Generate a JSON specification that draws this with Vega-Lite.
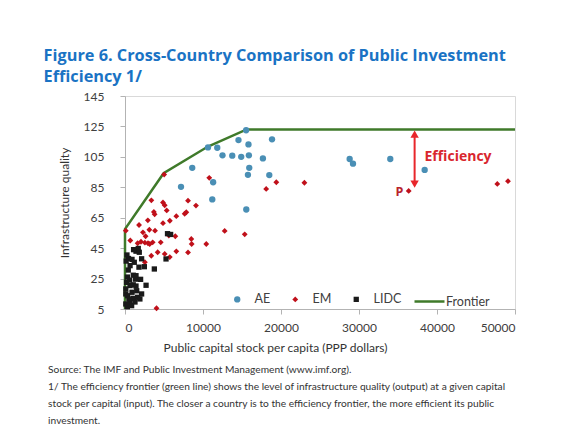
{
  "$schema": "https://vega.github.io/schema/vega-lite/v6.json",
  "background": "white",
  "padding": {"left": 43, "top": 48, "right": 10, "bottom": 8},
  "title": {
    "text": ["Figure 6. Cross-Country Comparison of Public Investment", "Efficiency 1/"],
    "anchor": "start",
    "frame": "bounds",
    "dx": -4,
    "font": "Open Sans",
    "fontSize": 16.3,
    "fontWeight": "bold",
    "color": "#1a73c4",
    "lineHeight": 21,
    "offset": 4
  },
  "datasets": {
    "points": [
      {"group": "AE", "x": 15530, "y": 122.5},
      {"group": "AE", "x": 10640, "y": 111.2},
      {"group": "AE", "x": 11830, "y": 111.0},
      {"group": "AE", "x": 14550, "y": 116.0},
      {"group": "AE", "x": 15830, "y": 113.2},
      {"group": "AE", "x": 18850, "y": 116.5},
      {"group": "AE", "x": 12500, "y": 106.0},
      {"group": "AE", "x": 13750, "y": 105.8},
      {"group": "AE", "x": 14900, "y": 105.0},
      {"group": "AE", "x": 15880, "y": 106.0},
      {"group": "AE", "x": 17680, "y": 104.0},
      {"group": "AE", "x": 15930, "y": 97.8},
      {"group": "AE", "x": 8620, "y": 97.8},
      {"group": "AE", "x": 15760, "y": 93.2},
      {"group": "AE", "x": 18500, "y": 93.0},
      {"group": "AE", "x": 7180, "y": 85.3},
      {"group": "AE", "x": 11300, "y": 88.3},
      {"group": "AE", "x": 11190, "y": 77.0},
      {"group": "AE", "x": 15550, "y": 70.4},
      {"group": "AE", "x": 28800, "y": 103.6},
      {"group": "AE", "x": 29230, "y": 100.5},
      {"group": "AE", "x": 34010, "y": 103.6},
      {"group": "AE", "x": 38420, "y": 96.4},
      {"group": "EM", "x": 10800, "y": 91.2},
      {"group": "EM", "x": 100, "y": 56.5},
      {"group": "EM", "x": 5020, "y": 93.4},
      {"group": "EM", "x": 19400, "y": 88.3},
      {"group": "EM", "x": 18100, "y": 83.9},
      {"group": "EM", "x": 23000, "y": 88.0},
      {"group": "EM", "x": 36370, "y": 82.6},
      {"group": "EM", "x": 47730, "y": 87.2},
      {"group": "EM", "x": 49100, "y": 89.0},
      {"group": "EM", "x": 3380, "y": 76.4},
      {"group": "EM", "x": 4870, "y": 75.0},
      {"group": "EM", "x": 5090, "y": 73.2},
      {"group": "EM", "x": 5350, "y": 69.8},
      {"group": "EM", "x": 3700, "y": 68.8},
      {"group": "EM", "x": 3800, "y": 67.2},
      {"group": "EM", "x": 1800, "y": 60.2},
      {"group": "EM", "x": 2930, "y": 63.3},
      {"group": "EM", "x": 4870, "y": 61.4},
      {"group": "EM", "x": 5750, "y": 63.0},
      {"group": "EM", "x": 6580, "y": 66.0},
      {"group": "EM", "x": 7860, "y": 68.6},
      {"group": "EM", "x": 7650, "y": 67.6},
      {"group": "EM", "x": 8080, "y": 76.2},
      {"group": "EM", "x": 9100, "y": 73.0},
      {"group": "EM", "x": 680, "y": 50.0},
      {"group": "EM", "x": 2300, "y": 55.4},
      {"group": "EM", "x": 2640, "y": 52.8},
      {"group": "EM", "x": 3120, "y": 57.1},
      {"group": "EM", "x": 3850, "y": 56.5},
      {"group": "EM", "x": 5620, "y": 53.3},
      {"group": "EM", "x": 6450, "y": 52.8},
      {"group": "EM", "x": 1620, "y": 48.2},
      {"group": "EM", "x": 2050, "y": 49.2},
      {"group": "EM", "x": 2550, "y": 48.6},
      {"group": "EM", "x": 2950, "y": 48.2},
      {"group": "EM", "x": 3170, "y": 47.7},
      {"group": "EM", "x": 3550, "y": 48.8},
      {"group": "EM", "x": 4580, "y": 48.8},
      {"group": "EM", "x": 8500, "y": 51.0},
      {"group": "EM", "x": 8550, "y": 47.7},
      {"group": "EM", "x": 10420, "y": 47.7},
      {"group": "EM", "x": 12780, "y": 56.3},
      {"group": "EM", "x": 15350, "y": 54.1},
      {"group": "EM", "x": 3370, "y": 40.0},
      {"group": "EM", "x": 5090, "y": 41.2},
      {"group": "EM", "x": 5740, "y": 39.1},
      {"group": "EM", "x": 6580, "y": 42.9},
      {"group": "EM", "x": 8080, "y": 42.2},
      {"group": "EM", "x": 2550, "y": 35.8},
      {"group": "EM", "x": 4190, "y": 42.3},
      {"group": "EM", "x": 4040, "y": 5.5},
      {"group": "LIDC", "x": 5450, "y": 54.5},
      {"group": "LIDC", "x": 5850, "y": 54.0},
      {"group": "LIDC", "x": 5260, "y": 37.9},
      {"group": "LIDC", "x": 3760, "y": 31.3},
      {"group": "LIDC", "x": 2700, "y": 20.6},
      {"group": "LIDC", "x": 1060, "y": 20.9},
      {"group": "LIDC", "x": 1700, "y": 44.8},
      {"group": "LIDC", "x": 1410, "y": 43.0},
      {"group": "LIDC", "x": 1830, "y": 42.3},
      {"group": "LIDC", "x": 450, "y": 38.2},
      {"group": "LIDC", "x": 900, "y": 37.6},
      {"group": "LIDC", "x": 2130, "y": 38.0},
      {"group": "LIDC", "x": 150, "y": 36.5},
      {"group": "LIDC", "x": 1190, "y": 35.7},
      {"group": "LIDC", "x": 1790, "y": 32.5},
      {"group": "LIDC", "x": 2480, "y": 32.8},
      {"group": "LIDC", "x": 420, "y": 30.6},
      {"group": "LIDC", "x": 1060, "y": 27.2},
      {"group": "LIDC", "x": 1410, "y": 26.9},
      {"group": "LIDC", "x": 1360, "y": 24.6},
      {"group": "LIDC", "x": 640, "y": 20.4},
      {"group": "LIDC", "x": 1410, "y": 20.1},
      {"group": "LIDC", "x": 100, "y": 18.2},
      {"group": "LIDC", "x": 100, "y": 14.9},
      {"group": "LIDC", "x": 340, "y": 13.7},
      {"group": "LIDC", "x": 1060, "y": 12.0},
      {"group": "LIDC", "x": 1620, "y": 12.7},
      {"group": "LIDC", "x": 1910, "y": 11.6},
      {"group": "LIDC", "x": 2130, "y": 14.9},
      {"group": "LIDC", "x": 640, "y": 9.4},
      {"group": "LIDC", "x": 1280, "y": 9.6},
      {"group": "LIDC", "x": 100, "y": 8.3},
      {"group": "LIDC", "x": 850, "y": 7.2},
      {"group": "LIDC", "x": 300, "y": 26.0},
      {"group": "LIDC", "x": 200, "y": 22.5},
      {"group": "LIDC", "x": 900, "y": 16.0},
      {"group": "LIDC", "x": 500, "y": 11.5},
      {"group": "LIDC", "x": 1500, "y": 17.0},
      {"group": "LIDC", "x": 650, "y": 33.5},
      {"group": "LIDC", "x": 250, "y": 40.5},
      {"group": "LIDC", "x": 600, "y": 24.0},
      {"group": "LIDC", "x": 2000, "y": 24.5},
      {"group": "LIDC", "x": 1100, "y": 44.0},
      {"group": "LIDC", "x": 300, "y": 6.5}
    ],
    "frontier": [
      {"series": "Frontier", "i": 1, "x": 0, "y": 5},
      {"series": "Frontier", "i": 2, "x": 0, "y": 57.5},
      {"series": "Frontier", "i": 3, "x": 4950, "y": 94.2},
      {"series": "Frontier", "i": 4, "x": 10640, "y": 111.8},
      {"series": "Frontier", "i": 5, "x": 15600, "y": 123},
      {"series": "Frontier", "i": 6, "x": 50000, "y": 123}
    ],
    "arrow": [{"x": 37130, "y": 87, "y2": 120}],
    "heads": [
      {"x": 37130, "y": 120.0, "angle": 0},
      {"x": 37130, "y": 87.0, "angle": 180}
    ],
    "effLabel": [{"label": "Efficiency", "x": 38400, "y": 104.8}],
    "pLabel": [{"label": "P", "x": 35700, "y": 82.2}]
  },
  "vconcat": [
    {
      "width": 390,
      "height": 213,
      "title": {
        "text": [
          "Source: The IMF and Public Investment Management  (www.imf.org).",
          "1/ The efficiency frontier (green line) shows the level of infrastructure quality (output) at a given capital",
          "stock per capital (input). The closer a country is to the efficiency frontier, the more efficient its public",
          "investment."
        ],
        "orient": "bottom",
        "anchor": "start",
        "frame": "bounds",
        "dx": -10,
        "font": "Lato",
        "fontSize": 10.2,
        "fontWeight": "normal",
        "color": "#333333",
        "lineHeight": 17,
        "offset": 12
      },
      "encoding": {
        "x": {
          "field": "x",
          "type": "quantitative",
          "scale": {"domain": [0, 50000], "nice": false},
          "axis": {
            "values": [0, 10000, 20000, 30000, 40000, 50000],
            "format": "d",
            "title": "Public capital stock per capita (PPP dollars)",
            "titleX": 150,
            "labelPadding": 8,
            "titlePadding": 9
          }
        },
        "y": {
          "field": "y",
          "type": "quantitative",
          "scale": {"domain": [5, 145], "nice": false, "zero": false},
          "axis": {
            "values": [5, 25, 45, 65, 85, 105, 125, 145],
            "labelOverlap": false,
            "title": "Infrastructure quality",
            "labelPadding": 16,
            "titlePadding": 12
          }
        }
      },
      "layer": [
        {
          "data": {"name": "frontier"},
          "mark": {"type": "line", "strokeWidth": 2.5},
          "encoding": {
            "order": {"field": "i"},
            "stroke": {
              "field": "series",
              "type": "nominal",
              "scale": {"domain": ["Frontier"], "range": ["#3f7a2a"]},
              "legend": {
                "orient": "none",
                "legendX": 288,
                "legendY": 189,
                "title": null,
                "symbolType": "stroke",
                "symbolSize": 900,
                "symbolStrokeWidth": 2.5,
                "labelOffset": 0,
                "labelFont": "Lato",
                "labelFontSize": 12.5,
                "labelColor": "#404040",
                "padding": 0
              }
            }
          }
        },
        {
          "data": {"name": "points"},
          "mark": {"type": "point", "filled": true, "opacity": 1},
          "encoding": {
            "color": {
              "field": "group",
              "type": "nominal",
              "scale": {"domain": ["AE", "EM", "LIDC"], "range": ["#4a8fb5", "#c0101a", "#1a1a1a"]},
              "legend": {
                "orient": "none",
                "direction": "horizontal",
                "legendX": 106,
                "legendY": 197,
                "title": null,
                "symbolSize": 40,
                "labelOffset": 11,
                "columnPadding": 18,
                "labelFont": "Lato",
                "labelFontSize": 12.5,
                "labelColor": "#404040",
                "padding": 0
              }
            },
            "shape": {
              "field": "group",
              "type": "nominal",
              "scale": {"domain": ["AE", "EM", "LIDC"], "range": ["circle", "diamond", "square"]},
              "legend": {
                "orient": "none",
                "direction": "horizontal",
                "legendX": 106,
                "legendY": 197,
                "title": null,
                "symbolSize": 40,
                "labelOffset": 11,
                "columnPadding": 18,
                "labelFont": "Lato",
                "labelFontSize": 12.5,
                "labelColor": "#404040",
                "padding": 0
              }
            },
            "size": {
              "field": "group",
              "type": "nominal",
              "scale": {"domain": ["AE", "EM", "LIDC"], "range": [40, 28, 36]},
              "legend": null
            }
          }
        },
        {
          "data": {"name": "arrow"},
          "mark": {"type": "rule", "color": "#e8262b", "strokeWidth": 2},
          "encoding": {
            "y2": {"field": "y2"}
          }
        },
        {
          "data": {"name": "heads"},
          "mark": {"type": "point", "shape": "triangle-up", "filled": true, "color": "#e8262b", "size": 70, "opacity": 1},
          "encoding": {
            "angle": {"field": "angle", "type": "quantitative", "scale": null}
          }
        },
        {
          "data": {"name": "effLabel"},
          "mark": {"type": "text", "align": "left", "baseline": "middle", "font": "Open Sans", "fontSize": 14, "fontWeight": "bold", "color": "#d9262e"},
          "encoding": {
            "text": {"field": "label"}
          }
        },
        {
          "data": {"name": "pLabel"},
          "mark": {"type": "text", "align": "right", "baseline": "middle", "font": "Open Sans", "fontSize": 12.5, "fontWeight": "bold", "color": "#b8232d"},
          "encoding": {
            "text": {"field": "label"}
          }
        }
      ]
    }
  ],
  "config": {
    "view": {"stroke": "#d9d9d9", "strokeWidth": 1},
    "axis": {
      "grid": false,
      "labelFont": "Lato",
      "labelFontSize": 12,
      "labelColor": "#404040",
      "titleFont": "Lato",
      "titleFontSize": 12,
      "titleFontWeight": "normal",
      "titleColor": "#333333",
      "domainColor": "#b3b3b3",
      "tickColor": "#b3b3b3",
      "tickSize": 5
    },
    "axisY": {"labelOverlap": false}
  }
}
